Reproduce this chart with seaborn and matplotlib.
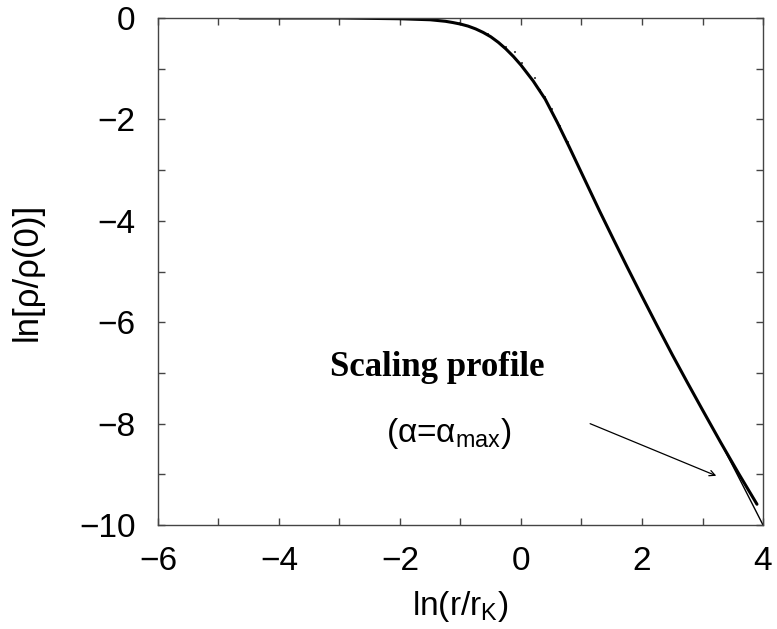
import numpy as np
import pandas as pd
import seaborn as sns
import matplotlib
matplotlib.use("Agg")
import matplotlib.pyplot as plt
from matplotlib.ticker import MultipleLocator

# Scaling density profile, ln(rho/rho0) vs ln(r/r_K)
ln_r = [-4.65, -3.0, -2.0, -1.5, -1.25, -1.125, -1.0, -0.875, -0.75, -0.625,
        -0.5, -0.375, -0.25, -0.125, 0.0, 0.2, 0.4, 0.6, 0.8, 1.03, 1.3, 1.53,
        1.75, 2.0, 2.25, 2.5, 2.75, 3.0, 3.3, 3.6, 3.9]
ln_rho = [0.0, 0.0, -0.015, -0.035, -0.065, -0.09, -0.12, -0.16, -0.215, -0.285,
          -0.37, -0.48, -0.61, -0.76, -0.93, -1.24, -1.6, -2.06, -2.55, -3.13,
          -3.81, -4.37, -4.9, -5.49, -6.07, -6.64, -7.19, -7.73, -8.37, -8.99,
          -9.59]

# thinner branch that splits off near the end
tail_r = [3.30, 3.65, 4.00]
tail_rho = [-8.37, -9.18, -10.0]

# scattered samples near the bend
pts_r = [-1.0, -0.68, -0.54, -0.24, -0.10, 0.01, 0.23, 0.31, 0.40, 0.52,
         0.64, 0.78, 1.00]
pts_rho = [-0.10, -0.25, -0.32, -0.58, -0.68, -0.89, -1.19, -1.42, -1.56, -1.80,
           -2.14, -2.44, -3.03]

x_ticks = [-6, -4, -2, 0, 2, 4]
y_ticks = [0, -2, -4, -6, -8, -10]

sns.set_theme(style="ticks")
plt.rcParams["font.family"] = ["Liberation Sans", "DejaVu Sans"]
plt.rcParams["mathtext.fontset"] = "custom"
plt.rcParams["mathtext.rm"] = "Liberation Sans"
plt.rcParams["mathtext.it"] = "Liberation Sans:italic"
for key in ("text.color", "axes.labelcolor", "xtick.labelcolor",
            "ytick.labelcolor"):
    plt.rcParams[key] = "black"

fig = plt.figure(figsize=(7.77, 6.29), dpi=100)
ax = fig.add_axes([0.2033, 0.1653, 0.7787, 0.8061])

main = pd.DataFrame({"x": ln_r, "y": ln_rho})
tail = pd.DataFrame({"x": tail_r, "y": tail_rho})
pts = pd.DataFrame({"x": pts_r, "y": pts_rho})

sns.lineplot(data=main, x="x", y="y", ax=ax, color="black", lw=2.2,
             sort=False, estimator=None)
sns.lineplot(data=tail, x="x", y="y", ax=ax, color="black", lw=1.0,
             sort=False, estimator=None)
sns.scatterplot(data=pts, x="x", y="y", ax=ax, color="#555555", s=2,
                linewidth=0, marker="s")

ax.set_xlim(-6, 4)
ax.set_ylim(-10, 0)
ax.set_xticks(x_ticks)
ax.set_yticks(y_ticks)
ax.set_xticklabels(["\u2212" + str(-v) if v < 0 else str(v) for v in x_ticks])
ax.set_yticklabels(["\u2212" + str(-v) if v < 0 else str(v) for v in y_ticks])
ax.xaxis.set_minor_locator(MultipleLocator(1))
ax.yaxis.set_minor_locator(MultipleLocator(1))
ax.tick_params(which="both", direction="in", top=True, right=True,
               length=5, width=1, color="#444444")
ax.tick_params(axis="x", which="major", labelsize=24, pad=15)
ax.tick_params(axis="y", which="major", labelsize=24, pad=16)
for s in ax.spines.values():
    s.set_linewidth(1.0)
    s.set_color("#444444")

ax.set_xlabel(r"ln(r/r$_{\mathrm{K}}$)", fontsize=24, labelpad=9)
ax.set_ylabel("ln[\u03c1/\u03c1(0)]", fontsize=25, labelpad=26)

ax.text(-1.39, -6.9, "Scaling profile", fontsize=25, fontweight="bold",
        family="Liberation Serif", ha="center", va="center")
ax.text(-1.19, -8.2, r"(α=α$_{\mathrm{max}}$)", fontsize=24, ha="center",
        va="center")
ax.annotate("", xy=(3.27, -9.05), xytext=(1.1, -7.98),
            arrowprops=dict(arrowstyle="->", color="black", lw=0.9,
                            mutation_scale=10))

fig.savefig("out.png", dpi=100)
